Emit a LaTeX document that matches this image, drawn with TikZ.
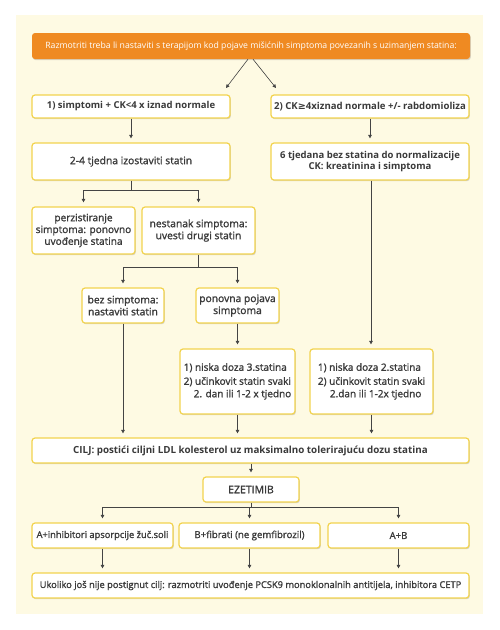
\documentclass[tikz,border=0pt]{standalone}
\usepackage{fontspec}
\setmainfont{Open Sans}
\newfontfamily\semib[FakeBold=1.4]{Open Sans}
\newfontfamily\dejavu{DejaVu Sans}
\usetikzlibrary{arrows.meta,shadows}
\definecolor{panel}{HTML}{FEFAE3}
\definecolor{boxline}{HTML}{F2D34E}
\definecolor{orng}{HTML}{EF8A22}
\definecolor{txt}{HTML}{3A3A3A}
\definecolor{arr}{HTML}{444444}
\begin{document}
\begin{tikzpicture}[x=1pt,y=-1pt,
 box/.style={draw=boxline, line width=1.2pt, fill=white, rounded corners=3pt,
   drop shadow={shadow xshift=0.8pt,shadow yshift=-1.2pt,opacity=0.25,fill=black!60},
   text=txt, align=center, inner sep=0pt, font=\semib\fontsize{10.3}{12}\selectfont},
 bbox/.style={box, font=\bfseries\fontsize{9.5}{11}\selectfont},
 conn/.style={draw=arr, line width=0.6pt},
 arw/.style={conn, -{Triangle[length=3.5pt,width=3.5pt]}, shorten >=4pt}]
\useasboundingbox (0,0) rectangle (499,630);
\fill[white] (0,0) rectangle (499,630);
\fill[panel] (16,15) rectangle (483,614);
% top
\node[fill=orng, rounded corners=3pt, minimum width=438pt, minimum height=26pt, inner sep=0pt,
  drop shadow={shadow xshift=0.8pt,shadow yshift=-1.2pt,opacity=0.25,fill=black!60},
  text=white, font=\fontsize{8.7}{9}\selectfont] (top) at (251,46)
  {Razmotriti treba li nastaviti s terapijom kod pojave mišićnih simptoma povezanih s uzimanjem statina:};
\node[bbox, minimum width=198pt, minimum height=23pt] (b1) at (131,106.5) {1) simptomi + CK<4 x iznad normale};
\node[bbox, font=\bfseries\fontsize{9.6}{11}\selectfont, minimum width=198pt, minimum height=23pt] (b2) at (370,106.5) {2) CK{\dejavu\bfseries ≥}4xiznad normale +/- rabdomioliza};
\node[box, minimum width=198pt, minimum height=37pt] (b3) at (131,161.5) {2-4 tjedna izostaviti statin};
\node[bbox, font=\bfseries\fontsize{9.5}{11.5}\selectfont, minimum width=198pt, minimum height=37pt] (b4) at (370,161.5) {6 tjedana bez statina do normalizacije\\CK: kreatinina i simptoma};
\node[box, font=\semib\fontsize{10.1}{11.8}\selectfont, minimum width=103pt, minimum height=47pt] (b5) at (83.5,230.5) {perzistiranje\\simptoma: ponovno\\uvođenje statina};
\node[box, minimum width=113pt, minimum height=47pt] (b6) at (198.5,230.5) {nestanak simptoma:\\uvesti drugi statin};
\node[box, minimum width=82pt, minimum height=35pt] (b7) at (123,305.5) {bez simptoma:\\nastaviti statin};
\node[box, minimum width=83pt, minimum height=35pt] (b8) at (237.5,305.5) {ponovna pojava\\simptoma};
\node[box, minimum width=115pt, minimum height=65pt, font=\semib\fontsize{10}{12.5}\selectfont] (b9) at (237.5,381.5)
  {\begin{tabular}{@{}l@{}}1) niska doza 3.statina\\[1.5pt]2) učinkovit statin svaki\\\hspace*{10pt}2. dan ili 1-2 x tjedno\end{tabular}};
\node[box, minimum width=123pt, minimum height=65pt, font=\semib\fontsize{10}{12.5}\selectfont] (b10) at (371.5,381.5)
  {\begin{tabular}{@{}l@{}}1) niska doza 2.statina\\[1.5pt]2) učinkovit statin svaki\\\hspace*{12pt}2.dan ili 1-2x tjedno\end{tabular}};
\node[bbox, font=\bfseries\fontsize{9.8}{11}\selectfont, minimum width=437pt, minimum height=25pt] (cilj) at (250.5,450.5)
  {CILJ: postići ciljni LDL kolesterol uz maksimalno tolerirajuću dozu statina};
\node[box, font=\semib\fontsize{10.5}{12}\selectfont, minimum width=96pt, minimum height=25pt] (ez) at (251,489.5) {EZETIMIB};
\node[box, minimum width=141pt, minimum height=25pt, font=\semib\fontsize{9.3}{10}\selectfont] (ba) at (102.5,535.5) {A+inhibitori apsorpcije žuč.soli};
\node[box, minimum width=141pt, minimum height=25pt, font=\semib\fontsize{9.6}{10}\selectfont] (bb) at (249.5,535.5) {B+fibrati (ne gemfibrozil)};
\node[box, minimum width=141pt, minimum height=25pt, font=\semib\fontsize{9.6}{10}\selectfont] (bab) at (398.5,535.5) {A+B};
\node[box, minimum width=437pt, minimum height=25pt, font=\semib\fontsize{9.3}{10}\selectfont] (fin) at (250.5,585.5)
  {Ukoliko još nije postignut cilj: razmotriti uvođenje PCSK9 monoklonalnih antitijela, inhibitora CETP};
% connectors
\coordinate (t1) at (226,88);
\coordinate (t2) at (276,88);
\draw[arw, shorten >=0pt] ([xshift=-3pt]top.south) -- (t1);
\draw[arw, shorten >=0pt] ([xshift=2pt]top.south) -- (t2);
\draw[arw] (b1) -- (b3);
\draw[arw] (b2.south) -- (b2.south |- b4.north);
\draw[conn] (b3.south) -- ++(0,10) coordinate (j1);
\draw[arw] (j1) -| (b5.north);
\draw[arw] (j1) -| (b6.north);
\draw[conn] (b6.south) -- ++(0,13) coordinate (j2);
\draw[arw] (j2) -| (b7.north);
\draw[arw] (j2) -| (b8.north);
\draw[arw] (b8) -- (b9);
\draw[arw] ([xshift=1pt]b4.south) -- ([xshift=1pt]b4.south |- b10.north);
\draw[arw] (b7.south) -- (b7.south |- cilj.north);
\draw[arw] (b9.south) -- (b9.south |- cilj.north);
\draw[arw] (b10.south) -- (b10.south |- cilj.north);
\draw[arw] (cilj.south -| ez.north) -- (ez.north);
\draw[conn] (ez.south) -- ++(0,5) coordinate (j3);
\draw[arw] (j3) -| (ba.north);
\draw[arw] (j3) -| (bb.north);
\draw[arw] (j3) -| (bab.north);
\draw[arw] (ba.south) -- (ba.south |- fin.north);
\draw[arw] (bb.south) -- (bb.south |- fin.north);
\draw[arw] (bab.south) -- (bab.south |- fin.north);
\end{tikzpicture}
\end{document}
